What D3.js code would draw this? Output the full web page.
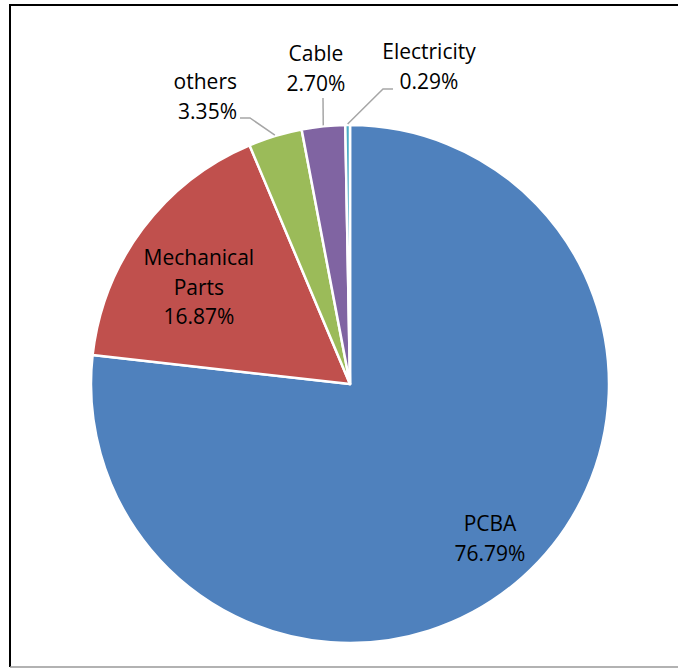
<!DOCTYPE html>
<html>
<head>
<meta charset="utf-8">
<script src="https://cdn.jsdelivr.net/npm/d3@7"></script>
<style>
  body { margin: 0; background: #fff; }
  svg text { font-family: "Open Sans", Lato, sans-serif; fill: #000; }
</style>
</head>
<body>
<script>
var categories = ["PCBA", "Mechanical Parts", "others", "Cable", "Electricity"];
var shares = [76.79, 16.87, 3.35, 2.70, 0.29];
var shareLabels = ["76.79%", "16.87%", "3.35%", "2.70%", "0.29%"];
var colors = ["#4F81BD", "#C0504D", "#9BBB59", "#8064A2", "#4BACC6"];

var width = 678, height = 668;
var cx = 350, cy = 384, radius = 259;

var svg = d3.select("body").append("svg")
  .attr("width", width)
  .attr("height", height);

// chart frame
svg.append("line").attr("x1", 10).attr("y1", 5).attr("x2", 678).attr("y2", 5)
  .attr("stroke", "#000").attr("stroke-width", 2);
svg.append("line").attr("x1", 10).attr("y1", 4).attr("x2", 10).attr("y2", 667)
  .attr("stroke", "#000").attr("stroke-width", 2);
svg.append("line").attr("x1", 10).attr("y1", 667).attr("x2", 678).attr("y2", 667)
  .attr("stroke", "#999").attr("stroke-width", 1.5);

var data = categories.map(function(c, i) {
  return { name: c, value: shares[i], label: shareLabels[i], color: colors[i] };
});

var pie = d3.pie().sort(null).value(d => d.value);
var arcs = pie(data);
var arc = d3.arc().innerRadius(0).outerRadius(radius);

var g = svg.append("g").attr("transform", "translate(" + cx + " " + cy + ")");

g.selectAll("path.slice")
  .data(arcs)
  .enter()
  .append("path")
  .attr("class", "slice")
  .attr("d", arc)
  .attr("fill", d => d.data.color)
  .attr("stroke", "#fff")
  .attr("stroke-width", 2.5)
  .attr("stroke-linejoin", "round");

function edgePoint(d, r) {
  var a = (d.startAngle + d.endAngle) / 2;
  return [Math.sin(a) * r, -Math.cos(a) * r];
}

// label placement: inside labels at a centroid radius, outside ones at an offset from centre
var labelSetup = {
  "PCBA": { inside: true, r: 0.8, dx: 2, dy: 0, anchor: "middle", lines: ["PCBA"] },
  "Mechanical Parts": { inside: true, r: 0.7, dx: -6, dy: 12, anchor: "middle", lines: ["Mechanical", "Parts"] },
  "others": { inside: false, x: 237 - cx, y: 82 - cy, anchor: "end", lines: ["others"],
    elbow: [250 - cx, 118 - cy], end: [240 - cx, 118 - cy] },
  "Cable": { inside: false, x: 316 - cx, y: 54 - cy, anchor: "middle", lines: ["Cable"],
    elbow: null, end: [323 - cx, 98 - cy] },
  "Electricity": { inside: false, x: 429 - cx, y: 52 - cy, anchor: "middle", lines: ["Electricity"],
    elbow: [383 - cx, 89 - cy], end: [393 - cx, 89 - cy] }
};

var lineH = 29.5;

arcs.forEach(function(d) {
  var s = labelSetup[d.data.name];
  var lines = s.lines.concat([d.data.label]);
  var px, py;
  if (s.inside) {
    var p = edgePoint(d, radius * s.r);
    px = p[0] + s.dx;
    py = p[1] + s.dy - (lines.length - 1) * lineH / 2;
  } else {
    px = s.x;
    py = s.y;
    var e = edgePoint(d, radius + 1);
    var pts = [e];
    if (s.elbow) pts.push(s.elbow);
    pts.push(s.end);
    g.append("path")
      .attr("d", d3.line()(pts))
      .attr("fill", "none")
      .attr("stroke", "#A6A6A6")
      .attr("stroke-width", 1.5);
  }
  var t = g.append("text")
    .attr("text-anchor", s.anchor)
    .attr("font-size", 21);
  lines.forEach(function(l, i) {
    t.append("tspan")
      .attr("x", px)
      .attr("y", py + i * lineH)
      .attr("dy", "0.35em")
      .text(l);
  });
});
</script>
</body>
</html>
